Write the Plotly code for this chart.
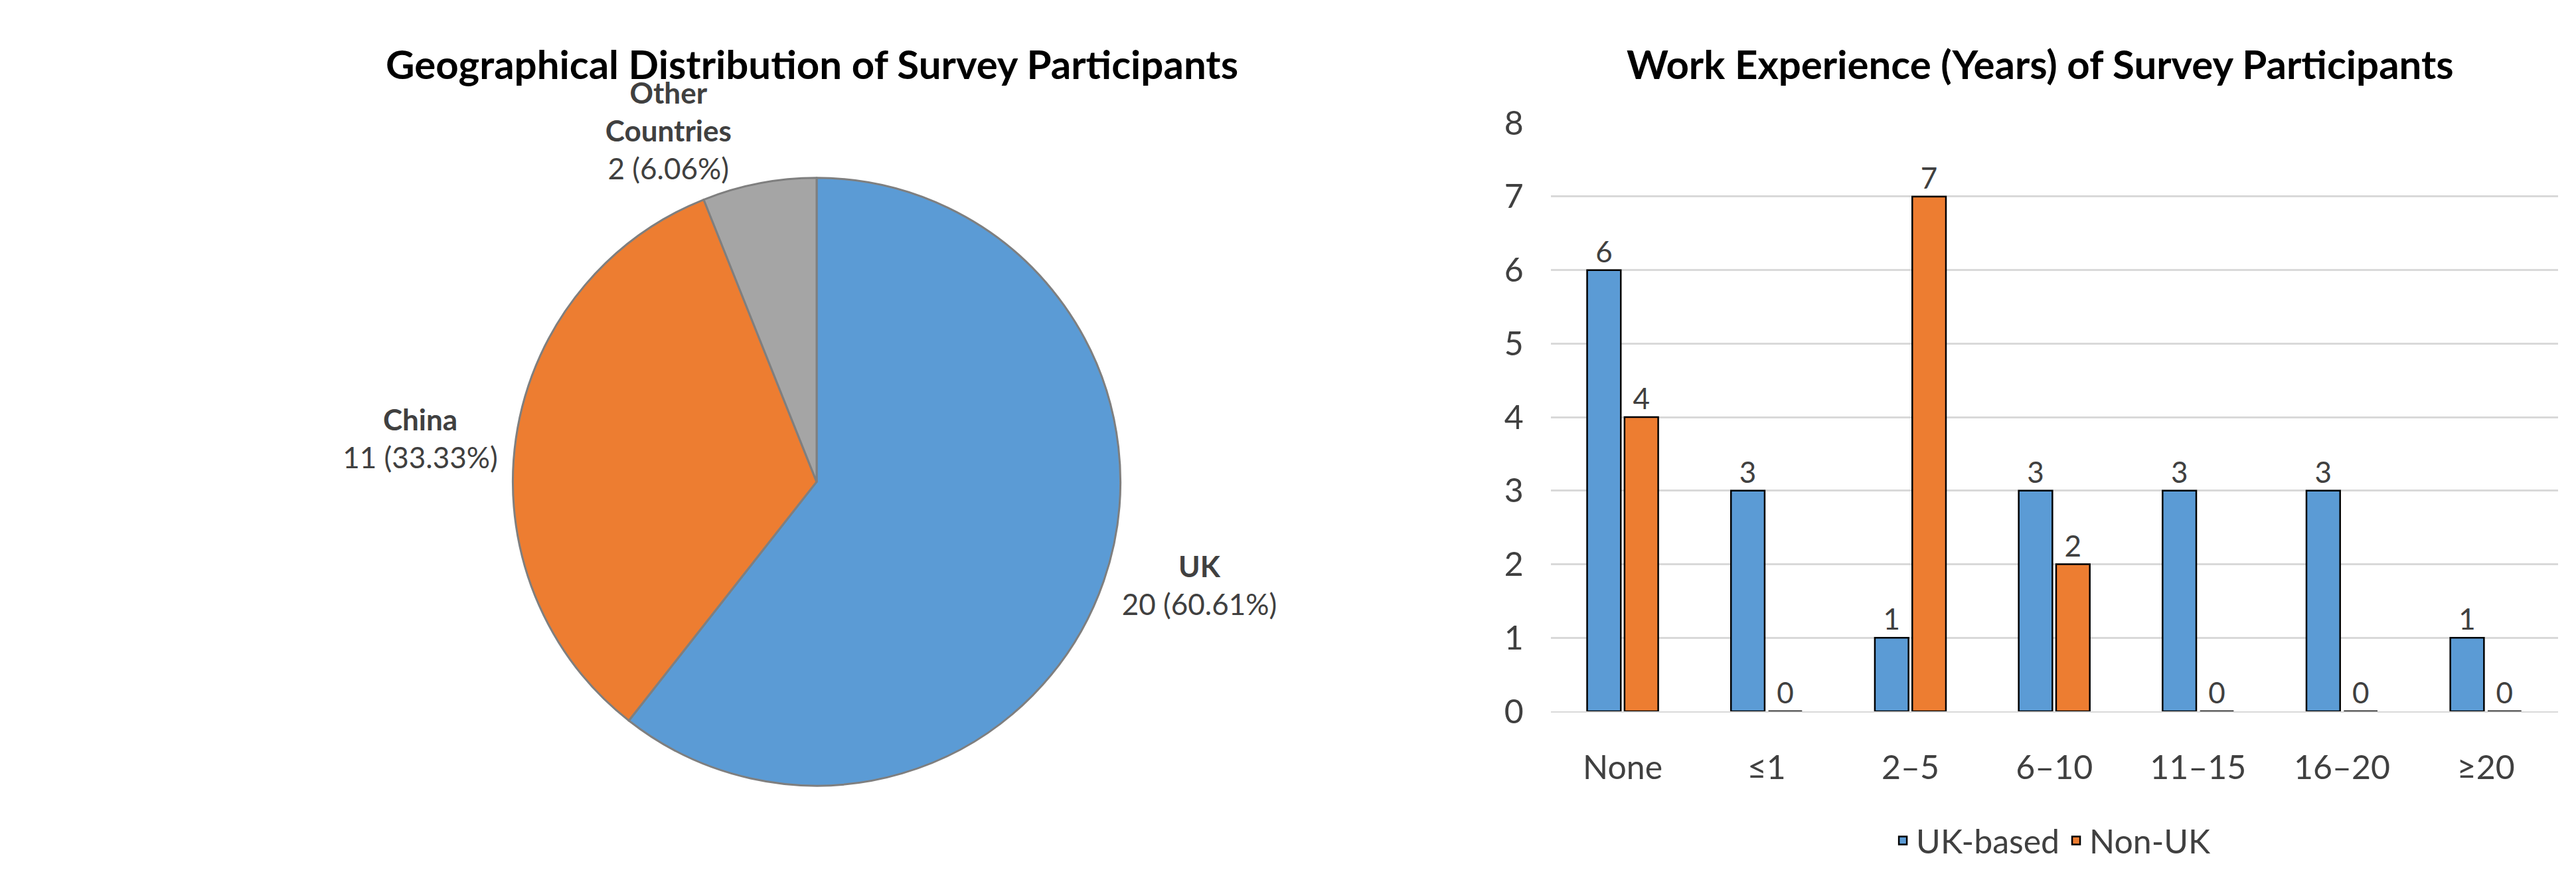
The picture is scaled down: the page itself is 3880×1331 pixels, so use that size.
import plotly.graph_objects as go

countries = ["UK", "China", "Other<br>Countries"]
country_counts = [20, 11, 2]
pie_colors = ["#5B9BD5", "#ED7D31", "#A5A5A5"]

categories = ["None", "≤1", "2–5", "6–10", "11–15", "16–20", "≥20"]
uk_based = [6, 3, 1, 3, 3, 3, 1]
non_uk = [4, 0, 7, 2, 0, 0, 0]

FONT = "Lato"
fig = go.Figure()
fig.add_trace(go.Pie(
    labels=countries, values=country_counts, sort=False, direction="clockwise",
    rotation=0, marker=dict(colors=pie_colors, line=dict(color="#7F7F7F", width=3)),
    texttemplate="<b>%{label}</b><br>%{value} (%{percent:.2%})",
    textposition="outside", textfont=dict(size=44, color="#404040", family=FONT),
    domain=dict(x=[0.05, 0.45], y=[0.10, 0.82]), showlegend=False,
))
fig.add_trace(go.Bar(x=categories, y=uk_based, name="UK-based", marker=dict(color="#5B9BD5", line=dict(color="black", width=2.5)),
                     text=uk_based, textposition="outside", textfont=dict(size=44, color="#404040", family=FONT), cliponaxis=False))
fig.add_trace(go.Bar(x=categories, y=non_uk, name="Non-UK", marker=dict(color="#ED7D31", line=dict(color="black", width=2.5)),
                     text=non_uk, textposition="outside", textfont=dict(size=44, color="#404040", family=FONT), cliponaxis=False))

fig.update_layout(
    width=3880, height=1331, paper_bgcolor="white", plot_bgcolor="white",
    font=dict(family=FONT, color="#404040", size=44),
    margin=dict(l=0, r=0, t=0, b=0),
    barmode="group", bargap=0.48, bargroupgap=0.1,
    xaxis=dict(domain=[0.562, 0.99], showline=True, linecolor="#D9D9D9", linewidth=2,
               tickfont=dict(size=50, color="#404040"), ticks="outside", ticklen=40, tickcolor="white"),
    yaxis=dict(domain=[0.188, 0.885], range=[0, 8], dtick=1, showgrid=True, gridcolor="#D9D9D9", gridwidth=2.5,
               zeroline=False, tickfont=dict(size=50, color="#404040"), ticklen=30, tickcolor="white", ticks="outside"),
    legend=dict(orientation="h", x=0.775, xanchor="center", y=0.035, yanchor="middle",
                font=dict(size=50, color="#404040"), itemwidth=30),
    annotations=[
        dict(text="<b>Geographical Distribution of Survey Participants</b>", x=0.248, y=0.955, xref="paper", yref="paper",
             showarrow=False, font=dict(size=60, color="black", family=FONT), xanchor="center", yanchor="middle"),
        dict(text="<b>Work Experience (Years) of Survey Participants</b>", x=0.77, y=0.955, xref="paper", yref="paper",
             showarrow=False, font=dict(size=60, color="black", family=FONT), xanchor="center", yanchor="middle"),
    ],
)
fig.write_html("out.html")
